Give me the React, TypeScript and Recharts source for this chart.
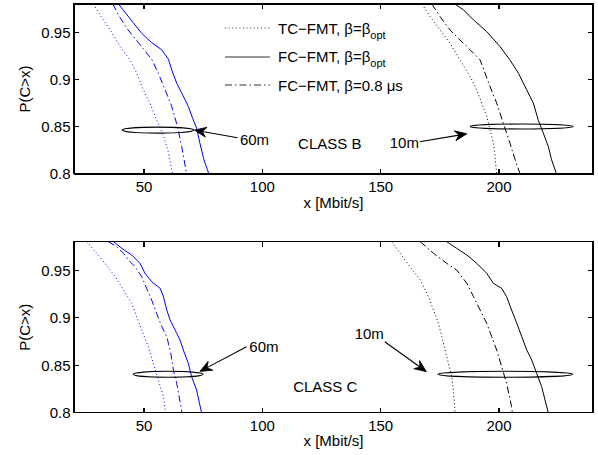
import { LineChart, Line, XAxis, YAxis, ReferenceLine, ReferenceDot } from "recharts";

type Pt = { x: number; p: number };

const xTicks = [50, 100, 150, 200];
const yTicks = [0.8, 0.85, 0.9, 0.95];
const xDomain: [number, number] = [20.4, 239.7];
const yDomain: [number, number] = [0.8, 0.98];

// CLASS B, 60m (blue)
const b60Tc: Pt[] = [
  { x: 28.6, p: 0.98 }, { x: 31.4, p: 0.9684 }, { x: 35.7, p: 0.9525 }, { x: 39.9, p: 0.9349 },
  { x: 44.1, p: 0.9208 }, { x: 46.9, p: 0.9067 }, { x: 49.7, p: 0.8891 }, { x: 52.5, p: 0.875 },
  { x: 55.3, p: 0.8574 }, { x: 58.2, p: 0.8405 }, { x: 60.3, p: 0.8229 }, { x: 62.1, p: 0.8 },
];
const b60FcOpt: Pt[] = [
  { x: 39.2, p: 0.98 }, { x: 45.5, p: 0.9599 }, { x: 49.0, p: 0.949 }, { x: 53.2, p: 0.9391 },
  { x: 57.5, p: 0.9314 }, { x: 60.3, p: 0.9215 }, { x: 61.7, p: 0.9102 }, { x: 63.8, p: 0.8961 },
  { x: 66.3, p: 0.8838 }, { x: 68.7, p: 0.8715 }, { x: 70.5, p: 0.8591 }, { x: 72.2, p: 0.8486 },
  { x: 73.6, p: 0.8327 }, { x: 75.3, p: 0.8151 }, { x: 77.4, p: 0.8 },
];
const b60Fc08: Pt[] = [
  { x: 36.8, p: 0.98 }, { x: 39.2, p: 0.9684 }, { x: 42.7, p: 0.9543 }, { x: 47.6, p: 0.9391 },
  { x: 53.2, p: 0.9215 }, { x: 56.0, p: 0.9067 }, { x: 58.9, p: 0.8891 }, { x: 61.7, p: 0.8715 },
  { x: 64.1, p: 0.8503 }, { x: 65.9, p: 0.8292 }, { x: 68.0, p: 0.8 },
];
// CLASS B, 10m (black)
const b10Tc: Pt[] = [
  { x: 167.4, p: 0.98 }, { x: 170.9, p: 0.9666 }, { x: 175.1, p: 0.9525 }, { x: 179.3, p: 0.9384 },
  { x: 183.5, p: 0.9208 }, { x: 187.8, p: 0.9032 }, { x: 190.6, p: 0.8891 }, { x: 192.7, p: 0.875 },
  { x: 194.8, p: 0.8609 }, { x: 196.2, p: 0.8468 }, { x: 197.6, p: 0.8327 }, { x: 198.3, p: 0.8186 },
  { x: 199.0, p: 0.8 },
];
const b10FcOpt: Pt[] = [
  { x: 181.4, p: 0.98 }, { x: 185.0, p: 0.9737 }, { x: 189.2, p: 0.9631 }, { x: 194.8, p: 0.9508 },
  { x: 200.4, p: 0.9349 }, { x: 204.6, p: 0.9208 }, { x: 208.2, p: 0.9067 }, { x: 211.7, p: 0.8891 },
  { x: 214.5, p: 0.875 }, { x: 216.6, p: 0.8567 }, { x: 218.7, p: 0.8433 }, { x: 220.8, p: 0.8292 },
  { x: 222.2, p: 0.8151 }, { x: 224.3, p: 0.8 },
];
const b10Fc08: Pt[] = [
  { x: 171.6, p: 0.98 }, { x: 175.1, p: 0.9666 }, { x: 179.3, p: 0.9525 }, { x: 183.5, p: 0.9419 },
  { x: 187.8, p: 0.9314 }, { x: 192.0, p: 0.9208 }, { x: 194.1, p: 0.9067 }, { x: 196.2, p: 0.8926 },
  { x: 199.0, p: 0.875 }, { x: 201.8, p: 0.8539 }, { x: 204.6, p: 0.8327 }, { x: 206.8, p: 0.8151 },
  { x: 208.9, p: 0.8 },
];

// CLASS C, 60m (blue)
const c60Tc: Pt[] = [
  { x: 25.8, p: 0.98 }, { x: 30.0, p: 0.9678 }, { x: 33.5, p: 0.9572 }, { x: 37.8, p: 0.9432 },
  { x: 41.3, p: 0.9292 }, { x: 44.8, p: 0.9151 }, { x: 46.9, p: 0.9011 }, { x: 49.0, p: 0.8871 },
  { x: 51.8, p: 0.8695 }, { x: 53.9, p: 0.852 }, { x: 56.0, p: 0.8344 }, { x: 58.2, p: 0.8169 },
  { x: 59.1, p: 0.8 },
];
const c60FcOpt: Pt[] = [
  { x: 37.1, p: 0.98 }, { x: 40.6, p: 0.973 }, { x: 44.8, p: 0.966 }, { x: 48.3, p: 0.9572 },
  { x: 50.4, p: 0.9467 }, { x: 53.2, p: 0.9379 }, { x: 56.8, p: 0.9309 }, { x: 58.2, p: 0.9221 },
  { x: 59.6, p: 0.9081 }, { x: 61.0, p: 0.8976 }, { x: 63.1, p: 0.8871 }, { x: 65.2, p: 0.8765 },
  { x: 66.6, p: 0.866 }, { x: 68.7, p: 0.852 }, { x: 70.1, p: 0.8379 }, { x: 72.2, p: 0.8239 },
  { x: 74.3, p: 0.8 },
];
const c60Fc08: Pt[] = [
  { x: 34.9, p: 0.98 }, { x: 38.5, p: 0.9748 }, { x: 41.3, p: 0.9678 }, { x: 43.4, p: 0.9607 },
  { x: 46.2, p: 0.9537 }, { x: 49.0, p: 0.9432 }, { x: 51.1, p: 0.9309 }, { x: 53.2, p: 0.9186 },
  { x: 55.3, p: 0.9046 }, { x: 57.5, p: 0.8906 }, { x: 59.6, p: 0.88 }, { x: 61.3, p: 0.8625 },
  { x: 62.4, p: 0.8449 }, { x: 63.8, p: 0.8309 }, { x: 65.6, p: 0.8063 }, { x: 66.0, p: 0.8 },
];
// CLASS C, 10m (black)
const c10Tc: Pt[] = [
  { x: 154.7, p: 0.98 }, { x: 158.2, p: 0.9678 }, { x: 162.4, p: 0.9537 }, { x: 166.7, p: 0.9397 },
  { x: 170.2, p: 0.9221 }, { x: 172.3, p: 0.9081 }, { x: 174.4, p: 0.8941 }, { x: 175.8, p: 0.88 },
  { x: 177.2, p: 0.866 }, { x: 178.6, p: 0.852 }, { x: 180.0, p: 0.8379 }, { x: 180.7, p: 0.8239 },
  { x: 181.4, p: 0.8 },
];
const c10FcOpt: Pt[] = [
  { x: 177.9, p: 0.98 }, { x: 182.1, p: 0.973 }, { x: 186.4, p: 0.966 }, { x: 190.6, p: 0.9572 },
  { x: 194.8, p: 0.9467 }, { x: 197.6, p: 0.9362 }, { x: 201.1, p: 0.9309 }, { x: 203.2, p: 0.9221 },
  { x: 205.3, p: 0.9081 }, { x: 207.5, p: 0.8941 }, { x: 209.6, p: 0.88 }, { x: 211.7, p: 0.866 },
  { x: 213.8, p: 0.8555 }, { x: 215.9, p: 0.8414 }, { x: 218.0, p: 0.8274 }, { x: 220.8, p: 0.8 },
];
const c10Fc08: Pt[] = [
  { x: 166.7, p: 0.98 }, { x: 172.3, p: 0.9678 }, { x: 177.9, p: 0.9572 }, { x: 182.1, p: 0.9502 },
  { x: 186.4, p: 0.9362 }, { x: 189.2, p: 0.9221 }, { x: 192.0, p: 0.9081 }, { x: 194.8, p: 0.8941 },
  { x: 196.9, p: 0.88 }, { x: 199.0, p: 0.866 }, { x: 201.1, p: 0.8485 }, { x: 203.2, p: 0.8309 },
  { x: 205.3, p: 0.8063 }, { x: 205.6, p: 0.8 },
];

// plot frame, in data units
const boxCorners: Pt[] = [
  { x: xDomain[0], p: yDomain[0] },
  { x: xDomain[0], p: yDomain[1] },
  { x: xDomain[1], p: yDomain[1] },
  { x: xDomain[1], p: yDomain[0] },
  { x: xDomain[0], p: yDomain[0] },
];

const BLUE = "#0000ff";
const BLACK = "#000000";
const DOT = "1 2.6";
const DASHDOT = "7 3 1.5 3";

type Series = { data: Pt[]; color: string; dash?: string };
type Ell = { x1: number; x2: number; y: number; ry: number };
type Arr = { x1: number; y1: number; x2: number; y2: number };
type Note = { x: number; y: number; text: string };

const classBSeries: Series[] = [
  { data: b60Tc, color: BLUE, dash: DOT },
  { data: b60Fc08, color: BLUE, dash: DASHDOT },
  { data: b60FcOpt, color: BLUE },
  { data: b10Tc, color: BLACK, dash: DOT },
  { data: b10Fc08, color: BLACK, dash: DASHDOT },
  { data: b10FcOpt, color: BLACK },
];
const classCSeries: Series[] = [
  { data: c60Tc, color: BLUE, dash: DOT },
  { data: c60Fc08, color: BLUE, dash: DASHDOT },
  { data: c60FcOpt, color: BLUE },
  { data: c10Tc, color: BLACK, dash: DOT },
  { data: c10Fc08, color: BLACK, dash: DASHDOT },
  { data: c10FcOpt, color: BLACK },
];

const classBEllipses: Ell[] = [
  { x1: 40.7, x2: 71.1, y: 0.8465, ry: 3 },
  { x1: 187.8, x2: 231.3, y: 0.8503, ry: 2.5 },
];
const classBArrows: Arr[] = [
  { x1: 89.5, y1: 0.8383, x2: 71.3, y2: 0.8465 },
  { x1: 166.5, y1: 0.8341, x2: 186.4, y2: 0.8426 },
];
const classBNotes: Note[] = [
  { x: 90.5, y: 0.8362, text: "60m" },
  { x: 153.8, y: 0.833, text: "10m" },
  { x: 115.1, y: 0.8327, text: "CLASS B" },
];

const classCEllipses: Ell[] = [
  { x1: 45.4, x2: 74.9, y: 0.8405, ry: 3 },
  { x1: 174.2, x2: 231.1, y: 0.8405, ry: 3 },
];
const classCArrows: Arr[] = [
  { x1: 93.3, y1: 0.8695, x2: 73.6, y2: 0.8435 },
  { x1: 151.7, y1: 0.8747, x2: 169.3, y2: 0.8432 },
];
const classCNotes: Note[] = [
  { x: 94.5, y: 0.8695, text: "60m" },
  { x: 139, y: 0.8836, text: "10m" },
  { x: 113, y: 0.8274, text: "CLASS C" },
];

const legendItems = [
  { name: "TC\u2212FMT, \u03b2=\u03b2", sub: "opt", dash: DOT },
  { name: "FC\u2212FMT, \u03b2=\u03b2", sub: "opt", dash: undefined },
  { name: "FC\u2212FMT, \u03b2=0.8 \u03bcs", sub: "", dash: DASHDOT },
];

const FONT = '"Liberation Sans", Arial, Helvetica, sans-serif';
const TICK = 5;

const EllipseShape = (props: any) => {
  const { x1, y1, x2, y2, ry } = props;
  return (
    <ellipse
      cx={(x1 + x2) / 2}
      cy={(y1 + y2) / 2}
      rx={Math.abs(x2 - x1) / 2}
      ry={ry}
      fill="none"
      stroke="#000"
      strokeWidth={1.1}
    />
  );
};

const ArrowShape = (props: any) => {
  const { x1, y1, x2, y2 } = props;
  const a = Math.atan2(y2 - y1, x2 - x1);
  const ux = Math.cos(a);
  const uy = Math.sin(a);
  const L = 12;
  const W = 5;
  const N = 8;
  const bx = x2 - ux * L;
  const by = y2 - uy * L;
  const nx = x2 - ux * N;
  const ny = y2 - uy * N;
  const pts = [
    [x2, y2],
    [bx - uy * W, by + ux * W],
    [nx, ny],
    [bx + uy * W, by - ux * W],
  ]
    .map((q) => q.join(","))
    .join(" ");
  return (
    <g>
      <line x1={x1} y1={y1} x2={nx} y2={ny} stroke="#000" strokeWidth={1.1} />
      <polygon points={pts} fill="#000" stroke="#000" strokeWidth={0.8} />
    </g>
  );
};

// inward tick marks at both ends of a full-height / full-width segment
const TickPair = (props: any) => {
  const { x1, y1, x2, y2 } = props;
  const vertical = Math.abs(x1 - x2) < Math.abs(y1 - y2);
  let d: string;
  if (vertical) {
    const t = Math.min(y1, y2);
    const b = Math.max(y1, y2);
    d = `M${x1},${t}L${x1},${t + TICK}M${x1},${b}L${x1},${b - TICK}`;
  } else {
    const l = Math.min(x1, x2);
    const r = Math.max(x1, x2);
    d = `M${l},${y1}L${l + TICK},${y1}M${r},${y1}L${r - TICK},${y1}`;
  }
  return <path d={d} stroke="#000" strokeWidth={1.4} fill="none" shapeRendering="crispEdges" />;
};

const YLabel = (props: any) => {
  const { viewBox } = props;
  const cx = viewBox.x + 24.5;
  const cy = viewBox.y + viewBox.height / 2;
  return (
    <text
      x={cx}
      y={cy}
      transform={`rotate(-90 ${cx} ${cy})`}
      textAnchor="middle"
      dominantBaseline="central"
      fontSize={15}
      fill="#000"
      fontFamily={FONT}
    >
      P(C&gt;x)
    </text>
  );
};

type PanelProps = {
  series: Series[];
  ellipses: Ell[];
  arrows: Arr[];
  notes: Note[];
  height: number;
  top: number;
  xAxisHeight: number;
};

function CdfPanel({ series, ellipses, arrows, notes, height, top, xAxisHeight }: PanelProps) {
  const tickStyle = { fill: "#000", fontSize: 15, fontFamily: FONT };
  const axisLineStyle = { stroke: "#000", strokeWidth: 1.2, shapeRendering: "crispEdges" };
  return (
    <LineChart width={598} height={height} margin={{ top, right: 5, left: 0, bottom: 0 }}>
      <XAxis
        type="number"
        dataKey="x"
        domain={xDomain}
        ticks={xTicks}
        height={xAxisHeight}
        tick={tickStyle}
        tickSize={0}
        tickMargin={7.6}
        tickLine={false}
        axisLine={axisLineStyle}
        stroke="#000"
        label={{ value: "x [Mbit/s]", position: "insideTop", offset: 23, fill: "#000", fontSize: 15 }}
      />
      <YAxis
        type="number"
        domain={yDomain}
        ticks={yTicks}
        width={74}
        tick={tickStyle}
        tickSize={0}
        tickMargin={3.5}
        tickLine={false}
        axisLine={axisLineStyle}
        stroke="#000"
        label={<YLabel />}
      />
      {series.map((s, i) => (
        <Line
          key={i}
          data={s.data}
          dataKey="p"
          type="linear"
          stroke={s.color}
          strokeWidth={1}
          strokeDasharray={s.dash}
          dot={false}
          activeDot={false}
          isAnimationActive={false}
        />
      ))}
      <Line
        data={boxCorners}
        dataKey="p"
        type="linear"
        stroke="#000"
        strokeWidth={1.2}
        shapeRendering="crispEdges"
        dot={false}
        activeDot={false}
        isAnimationActive={false}
      />
      {xTicks.map((t) => (
        <ReferenceLine
          key={`tx${t}`}
          segment={[
            { x: t, y: yDomain[0] },
            { x: t, y: yDomain[1] },
          ]}
          ifOverflow="visible"
          shape={(p: any) => <TickPair {...p} />}
        />
      ))}
      {yTicks.map((t) => (
        <ReferenceLine
          key={`ty${t}`}
          segment={[
            { x: xDomain[0], y: t },
            { x: xDomain[1], y: t },
          ]}
          ifOverflow="visible"
          shape={(p: any) => <TickPair {...p} />}
        />
      ))}
      {ellipses.map((e, i) => (
        <ReferenceLine
          key={`e${i}`}
          segment={[
            { x: e.x1, y: e.y },
            { x: e.x2, y: e.y },
          ]}
          ifOverflow="visible"
          shape={(p: any) => <EllipseShape {...p} ry={e.ry} />}
        />
      ))}
      {arrows.map((a, i) => (
        <ReferenceLine
          key={`a${i}`}
          segment={[
            { x: a.x1, y: a.y1 },
            { x: a.x2, y: a.y2 },
          ]}
          ifOverflow="visible"
          shape={(p: any) => <ArrowShape {...p} />}
        />
      ))}
      {notes.map((n, i) => (
        <ReferenceDot
          key={`n${i}`}
          x={n.x}
          y={n.y}
          r={0}
          ifOverflow="visible"
          shape={(p: any) => (
            <text x={p.cx} y={p.cy} dy="0.36em" fontSize={15} fill="#000" fontFamily={FONT}>
              {n.text}
            </text>
          )}
        />
      ))}
    </LineChart>
  );
}

function LegendBox() {
  return (
    <div style={{ position: "absolute", left: 225, top: 14, fontFamily: FONT, fontSize: 15, color: "#000" }}>
      {legendItems.map((it, i) => (
        <div key={i} style={{ display: "flex", alignItems: "center", height: 28.5, whiteSpace: "nowrap" }}>
          <svg width={45} height={10} style={{ marginRight: 8 }}>
            <line x1={0} y1={5} x2={45} y2={5} stroke="#333" strokeWidth={1} strokeDasharray={it.dash} />
          </svg>
          <span>
            {it.name}
            {it.sub ? (
              <span style={{ fontSize: 11, position: "relative", top: 5 }}>{it.sub}</span>
            ) : null}
          </span>
        </div>
      ))}
    </div>
  );
}

export default function App() {
  return (
    <div
      style={{
        position: "absolute",
        left: 0,
        top: 0,
        width: 598,
        height: 455,
        background: "#fff",
        fontFamily: FONT,
      }}
    >
      <div style={{ position: "absolute", left: 0, top: 0 }}>
        <CdfPanel
          series={classBSeries}
          ellipses={classBEllipses}
          arrows={classBArrows}
          notes={classBNotes}
          height={228}
          top={4}
          xAxisHeight={54}
        />
      </div>
      <div style={{ position: "absolute", left: 0, top: 228 }}>
        <CdfPanel
          series={classCSeries}
          ellipses={classCEllipses}
          arrows={classCArrows}
          notes={classCNotes}
          height={227}
          top={13.7}
          xAxisHeight={42.3}
        />
      </div>
      <LegendBox />
    </div>
  );
}
